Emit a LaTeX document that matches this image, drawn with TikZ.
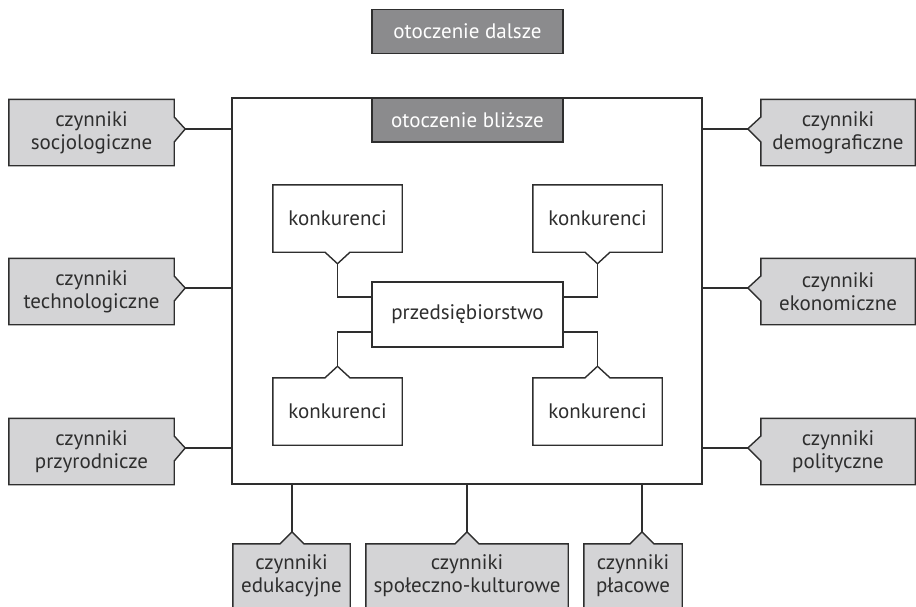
\documentclass[tikz,border=0pt]{standalone}
\usepackage{fontspec}
\setmainfont{PT Sans}
\usetikzlibrary{calc,backgrounds}
\definecolor{facgray}{HTML}{D4D4D6}
\definecolor{envgray}{HTML}{8B8B8D}
\definecolor{ink}{HTML}{2E2E2E}
\begin{document}
\begin{tikzpicture}[x=1pt,y=-1pt,
  every node/.style={font=\fontsize{21}{23}\selectfont, text=ink, inner sep=0pt, align=center},
  wire/.style={draw=ink, line width=1.4pt},
  outline/.style={draw=ink, line width=1.4pt, line join=miter},
  sidebox/.style={minimum height=66pt},
  leftbox/.style={sidebox, minimum width=165pt},
  rightbox/.style={sidebox, minimum width=154pt},
  botbox/.style={minimum height=64pt},
  compbox/.style={minimum width=129pt, minimum height=67pt},
  envbox/.style={draw=ink, line width=1.4pt, fill=envgray, text=white,
                 minimum width=191pt, minimum height=44pt}]
\useasboundingbox (0,0) rectangle (916,606);
\clip (0,0) rectangle (916,606);

% near environment frame and the two headings
\node[draw=ink, line width=1.4pt, minimum width=470pt, minimum height=386pt] (main) at (467,291) {};
\node[envbox] (far) at (467.5,31.5) {otoczenie dalsze};
\node[envbox] (near) at (467.5,120) {otoczenie bliższe};

% the firm in the middle
\node[draw=ink, line width=1.4pt, fill=white, minimum width=191pt, minimum height=65pt] (firm) at (467.5,314.5) {przedsiębiorstwo};

% competitors
\node[compbox] (k1) at (337.5,218.5) {konkurenci};
\node[compbox] (k2) at (597.5,218.5) {konkurenci};
\node[compbox] (k3) at (337.5,411.5) {konkurenci};
\node[compbox] (k4) at (597.5,411.5) {konkurenci};

% factors on the left
\node[leftbox] (soc) at (91.5,132.5) {czynniki\\socjologiczne};
\node[leftbox] (tech) at (91.5,291.5) {czynniki\\technologiczne};
\node[leftbox] (nat) at (91.5,451.5) {czynniki\\przyrodnicze};

% factors on the right
\node[rightbox] (dem) at (838,132.5) {czynniki\\demograficzne};
\node[rightbox] (eco) at (838,291.5) {czynniki\\ekonomiczne};
\node[rightbox] (pol) at (838,451.5) {czynniki\\polityczne};

% factors below
\node[botbox, minimum width=117pt] (edu) at (291.5,576) {czynniki\\edukacyjne};
\node[botbox, minimum width=202pt] (cult) at (467,576) {czynniki\\społeczno-kulturowe};
\node[botbox, minimum width=98pt] (pay) at (633,576) {czynniki\\płacowe};

% notch tips
\foreach \n in {soc,tech,nat} \coordinate (\n-tip) at ($(\n.east)+(11,-3.5)$);
\foreach \n in {dem,eco,pol} \coordinate (\n-tip) at ($(\n.west)+(-13,-3.5)$);
\coordinate (edu-tip) at ($(edu.north)+(0.5,-12)$);
\coordinate (cult-tip) at ($(cult.north)+(0,-12)$);
\coordinate (pay-tip) at ($(pay.north)+(9,-12)$);
\foreach \n in {k1,k2} \coordinate (\n-tip) at ($(\n.south)+(0,11.5)$);
\foreach \n in {k3,k4} \coordinate (\n-tip) at ($(\n.north)+(0,-11.5)$);

\begin{scope}[on background layer]
  % boxes with a notch on the right
  \foreach \n in {soc,tech,nat}
    \filldraw[outline, fill=facgray] (\n.north west) -- (\n.north east)
      -- ($(\n-tip)+(-11,-12)$) -- (\n-tip) -- ($(\n-tip)+(-11,13)$)
      -- (\n.south east) -- (\n.south west) -- cycle;
  % boxes with a notch on the left
  \foreach \n in {dem,eco,pol}
    \filldraw[outline, fill=facgray] (\n.north east) -- (\n.north west)
      -- ($(\n-tip)+(13,-12)$) -- (\n-tip) -- ($(\n-tip)+(13,13)$)
      -- (\n.south west) -- (\n.south east) -- cycle;
  % boxes with a notch on top
  \foreach \n in {edu,cult,pay}
    \filldraw[outline, fill=facgray] (\n.south west) -- (\n.north west)
      -- ($(\n-tip)+(-12,12)$) -- (\n-tip) -- ($(\n-tip)+(12,12)$)
      -- (\n.north east) -- (\n.south east) -- cycle;
  % competitors notched below
  \foreach \n in {k1,k2}
    \filldraw[outline, fill=white] (\n.north west) -- (\n.north east) -- (\n.south east)
      -- ($(\n-tip)+(12.5,-11.5)$) -- (\n-tip) -- ($(\n-tip)+(-12.5,-11.5)$)
      -- (\n.south west) -- cycle;
  % competitors notched above
  \foreach \n in {k3,k4}
    \filldraw[outline, fill=white] (\n.south west) -- (\n.south east) -- (\n.north east)
      -- ($(\n-tip)+(12.5,11.5)$) -- (\n-tip) -- ($(\n-tip)+(-12.5,11.5)$)
      -- (\n.north west) -- cycle;
\end{scope}

% connectors to the frame
\foreach \n in {soc,tech,nat} \draw[wire] (\n-tip) -- (\n-tip -| main.west);
\foreach \n in {dem,eco,pol} \draw[wire] (\n-tip) -- (\n-tip -| main.east);
\foreach \n in {edu,cult,pay} \draw[wire] (\n-tip) -- (\n-tip |- main.south);

% connectors between competitors and the firm
\draw[wire] (k1-tip) |- ($(firm.west)+(0,-17.5)$);
\draw[wire] (k2-tip) |- ($(firm.east)+(0,-17.5)$);
\draw[wire] (k3-tip) |- ($(firm.west)+(0,17.5)$);
\draw[wire] (k4-tip) |- ($(firm.east)+(0,17.5)$);
\end{tikzpicture}
\end{document}
